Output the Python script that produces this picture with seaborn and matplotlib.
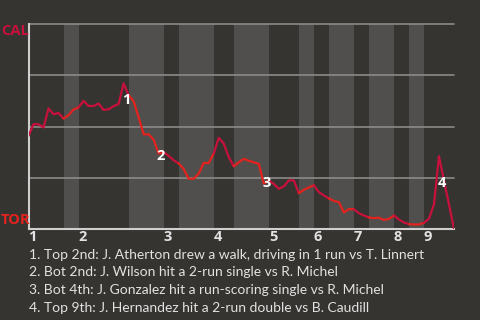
import matplotlib
matplotlib.use("Agg")
import matplotlib.pyplot as plt
import seaborn as sns
import pandas as pd
import numpy as np

# ---- data ----
wp = [0.454, 0.511, 0.511, 0.495, 0.588, 0.560, 0.566, 0.539, 0.555, 0.583,
      0.593, 0.625, 0.600, 0.600, 0.612, 0.581, 0.584, 0.599, 0.610, 0.710,
      0.653, 0.623, 0.545, 0.462, 0.462, 0.435, 0.368, 0.374, 0.357, 0.335,
      0.320, 0.293, 0.245, 0.245, 0.270, 0.322, 0.322, 0.368, 0.445, 0.417,
      0.351, 0.306, 0.325, 0.342, 0.333, 0.325, 0.318, 0.222, 0.237, 0.220,
      0.196, 0.208, 0.237, 0.237, 0.175, 0.191, 0.203, 0.213, 0.180, 0.164,
      0.149, 0.137, 0.131, 0.081, 0.097, 0.097, 0.077, 0.066, 0.056, 0.053,
      0.055, 0.044, 0.049, 0.066, 0.046, 0.032, 0.024, 0.022, 0.022, 0.030,
      0.050, 0.120, 0.355, 0.235, 0.120, 0.0]
half_starts = [0, 7, 10, 20, 27, 30, 37, 41, 48, 54, 57, 60, 65, 68, 73, 76, 79, 85]
inning_labels = ["1", "2", "3", "4", "5", "6", "7", "8", "9"]
event_index = [19, 26, 47, 82]
event_labels = ["1", "2", "3", "4"]
event_texts = [
    "1. Top 2nd: J. Atherton drew a walk, driving in 1 run vs T. Linnert",
    "2. Bot 2nd: J. Wilson hit a 2-run single vs R. Michel",
    "3. Bot 4th: J. Gonzalez hit a run-scoring single vs R. Michel",
    "4. Top 9th: J. Hernandez hit a 2-run double vs B. Caudill",
]
teams = ["CAL", "TOR"]

# ---- style ----
BG = "#363430"
BAND = "#504f4d"
GRID = "#8a8a88"
AXIS = "#cfcfcf"
TXT = "#e2e2e2"
C_TOP = "#c8103c"
C_BOT = "#e4221e"
BOLD = ["Open Sans", "DejaVu Sans"]

sns.set_theme(style="dark")
plt.rcParams["font.family"] = ["Lato", "DejaVu Sans"]

df = pd.DataFrame({"x": np.arange(len(wp)), "wp": wp})

fig = plt.figure(figsize=(4.8, 3.2), dpi=100, facecolor=BG)
ax = fig.add_axes([28.5 / 480, 1 - 229 / 320, (454 - 28.5) / 480, (229 - 24) / 320])
ax.set_facecolor(BG)

n_end = half_starts[-1]
ax.set_xlim(0, n_end)
ax.set_ylim(0, 1)

# bottom-half shading
for i in range(len(half_starts) - 1):
    if i % 2 == 1:
        ax.axvspan(half_starts[i], half_starts[i + 1], color=BAND, lw=0, zorder=0)

for yv in [0.25, 0.5, 0.75, 1.0]:
    ax.axhline(yv, color=GRID, lw=1.2, zorder=1, clip_on=False)

# line segments per half-inning
for i in range(len(half_starts) - 1):
    a, b = half_starts[i], min(half_starts[i + 1], len(wp) - 1)
    seg = df.iloc[a:b + 1]
    sns.lineplot(data=seg, x="x", y="wp", ax=ax, color=C_TOP if i % 2 == 0 else C_BOT,
                 lw=1.6, zorder=3, legend=False)

for s in ["top", "right"]:
    ax.spines[s].set_visible(False)
for s in ["left", "bottom"]:
    ax.spines[s].set_visible(True)
    ax.spines[s].set_color(AXIS)
    ax.spines[s].set_linewidth(1.5)

ax.set_xlabel("")
ax.set_ylabel("")
ax.set_yticks([])
ax.set_xticks(half_starts[0:-1:2])
ax.set_xticklabels(inning_labels, color=TXT, fontsize=10.5, fontweight="bold", ha="left",
                   family=BOLD)
ax.tick_params(axis="x", length=0, pad=0.5)

# event annotations
offs = [(2.5, -17), (1.5, -2), (2.5, 0), (2.5, -27)]
for idx, lab, (dx, dy) in zip(event_index, event_labels, offs):
    ax.annotate(lab, (idx, wp[idx]), xytext=(dx, dy), textcoords="offset pixels",
                ha="center", va="center", color="white", fontsize=10.5,
                fontweight="bold", family=BOLD, zorder=5)

fig.text(1 / 480, 1 - 31 / 320, teams[0], color=C_TOP, fontsize=10.5, fontweight="bold",
         ha="left", va="center", family=BOLD)
fig.text(1 / 480, 1 - 220 / 320, teams[1], color=C_BOT, fontsize=10.5, fontweight="bold",
         ha="left", va="center", family=BOLD)

for k, t in enumerate(event_texts):
    fig.text(29 / 480, 1 - (255 + 17.5 * k) / 320, t, color=TXT, fontsize=10,
             ha="left", va="center")

fig.savefig("out.png", dpi=100, facecolor=BG)
